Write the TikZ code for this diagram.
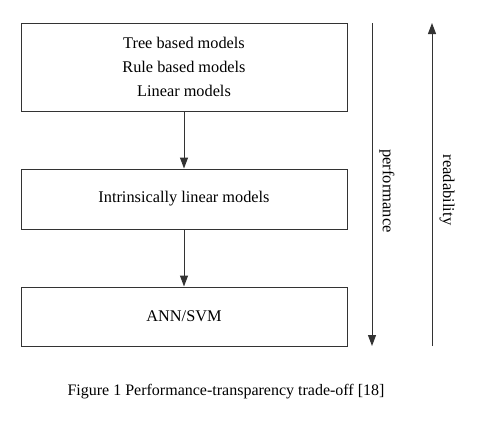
\documentclass[tikz,border=0pt]{standalone}
\usepackage{fontspec}
\setmainfont{Liberation Serif}
\usetikzlibrary{arrows.meta}

\begin{document}
\begin{tikzpicture}[x=1pt,y=-1pt,
  box/.style={draw=black!80,line width=1pt,minimum width=326pt,inner sep=0pt,
    font=\fontsize{16.3}{24}\selectfont,align=center},
  arr/.style={-{Triangle[length=11pt,width=8pt]},draw=black!80,line width=1pt},
  side/.style={font=\fontsize{16.5}{18}\selectfont,rotate=-90}]
\useasboundingbox (0,0) rectangle (484,421);
\node[box,minimum height=88pt] (models) at (184,67) {Tree based models\\Rule based models\\Linear models};
\node[box,minimum height=60pt] (linear) at (184,199) {Intrinsically linear models};
\node[box,minimum height=59pt] (annsvm) at (184,316.5) {ANN/SVM};
\draw[arr] (models) -- (linear);
\draw[arr] (linear) -- (annsvm);
% trade-off axes
\coordinate (perftop) at (372,23);
\coordinate (perfbot) at (372,346);
\coordinate (readbot) at (432,346);
\coordinate (readtop) at (432,23);
\draw[arr] (perftop) -- (perfbot);
\draw[arr] (readbot) -- (readtop);
\node[side] (perf) at (387,191) {performance};
\node[side] (read) at (447,190) {readability};
\node[font=\fontsize{16}{18}\selectfont] (caption) at (226,392) {Figure 1 Performance-transparency trade-off [18]};
\end{tikzpicture}
\end{document}
